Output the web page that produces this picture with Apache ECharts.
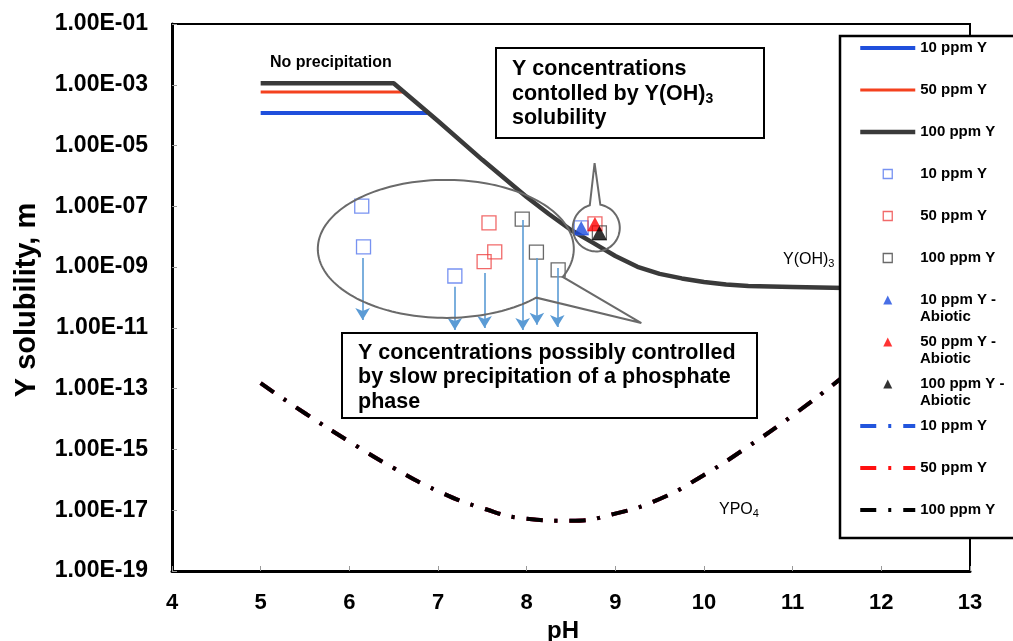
<!DOCTYPE html>
<html><head><meta charset="utf-8">
<script src="https://cdn.jsdelivr.net/npm/echarts@6/dist/echarts.min.js"></script>
<style>html,body{margin:0;padding:0;background:#fff}#c{width:1013px;height:641px}</style>
</head><body><div id="c"></div>
<script>
// ---- axis ticks ----
const xTicks = [4, 5, 6, 7, 8, 9, 10, 11, 12, 13];
const yTickExponents = [-19, -17, -15, -13, -11, -9, -7, -5, -3, -1];

// ---- Y(OH)3 solubility model lines (Y solubility, m) ----
const line10pH = [5.0, 6.88];
const line10Val = [1.17e-4, 1.17e-4];
const line50pH = [5.0, 6.61];
const line50Val = [5.75e-4, 5.75e-4];
const line100pH = [5.0, 6.5, 7.0, 7.5, 8.0, 8.25, 8.5, 8.75, 9.0, 9.25, 9.5, 9.75, 10.0, 10.25, 10.5, 11.0, 11.6, 12.0];
const line100Val = [1.12e-3, 1.12e-3, 6.46e-5, 3.39e-6, 2.04e-7, 5.6e-8, 1.67e-8, 6.25e-9, 2.33e-9, 1.02e-9, 5.97e-10, 4.25e-10, 3.26e-10, 2.7e-10, 2.41e-10, 2.23e-10, 2.07e-10, 2.04e-10];

// ---- measured data (open squares) ----
const sq10pH = [6.14, 6.16, 7.19, 8.615];
const sq10Val = [1.02e-7, 4.6e-9, 5.1e-10, 1.95e-8];
const sq50pH = [7.575, 7.64, 7.52, 8.77];
const sq50Val = [2.84e-8, 3.16e-9, 1.51e-9, 2.63e-8];
const sq100pH = [7.95, 8.11, 8.355, 8.82];
const sq100Val = [3.8e-8, 3.09e-9, 8.1e-10, 1.33e-8];

// ---- abiotic data (filled triangles) ----
const tri10pH = [8.615];
const tri10Val = [1.95e-8];
const tri50pH = [8.77];
const tri50Val = [2.63e-8];
const tri100pH = [8.82];
const tri100Val = [1.33e-8];

// ---- YPO4 solubility (dash-dot) ----
const ypoPH = [5.0, 5.5, 6.0, 6.5, 7.0, 7.5, 8.0, 8.5, 9.0, 9.5, 10.0, 10.5, 11.0, 11.5, 12.0];
const ypoVal = [1.51e-13, 1.55e-14, 1.82e-15, 2.45e-16, 4.27e-17, 1.17e-17, 5.25e-18, 4.47e-18, 7.76e-18, 2.34e-17, 1.45e-16, 1.26e-15, 1.32e-14, 1.70e-13, 2.51e-12];

// ---- downward arrows (upper limits) ----
const arrowPH = [6.15, 7.19, 7.525, 7.955, 8.115, 8.345];
const arrowFrom = [2.0e-9, 2.24e-10, 6.46e-10, 3.55e-8, 2.0e-9, 9.33e-10];
const arrowTo = [1.82e-11, 8.5e-12, 1.0e-11, 8.5e-12, 1.26e-11, 1.07e-11];

// ---- legend labels ----
const legendNames = [
  '10 ppm Y|line', '50 ppm Y|line', '100 ppm Y|line',
  '10 ppm Y|sq', '50 ppm Y|sq', '100 ppm Y|sq',
  '10 ppm Y -|tri', '50 ppm Y -|tri', '100 ppm Y -|tri',
  '10 ppm Y|ypo', '50 ppm Y|ypo', '100 ppm Y|ypo'
];

const FONT = 'Arial';
const lg = v => Math.log10(v);
const pts = (xs, ys) => xs.map((x, i) => [x, lg(ys[i])]);

const chart = echarts.init(document.getElementById('c'), null, {renderer: 'canvas'});

const DASHDOT = [16, 12, 3, 12];
function lineSeries(name, xs, ys, color, width, type, z, smooth) {
  return {
    name, type: 'line', data: pts(xs, ys), symbol: 'none', showSymbol: false,
    smooth: smooth || false, silent: true, z,
    lineStyle: {color, width, type: type || 'solid', cap: 'butt', join: 'round'},
    itemStyle: {color: 'rgba(0,0,0,0)'}
  };
}
function scatterSeries(name, xs, ys, symbol, size, style, z) {
  return {
    name, type: 'scatter', data: pts(xs, ys), symbol, symbolSize: size, silent: true, z,
    itemStyle: style
  };
}

const series = [
  lineSeries(legendNames[9], ypoPH, ypoVal, '#2255dd', 4, DASHDOT, 2, true),
  lineSeries(legendNames[10], ypoPH, ypoVal, '#ff1010', 4, DASHDOT, 2, true),
  lineSeries(legendNames[11], ypoPH, ypoVal, '#000000', 4, DASHDOT, 2, true),
  lineSeries(legendNames[0], line10pH, line10Val, '#1f4fdc', 4, 'solid', 3),
  lineSeries(legendNames[1], line50pH, line50Val, '#f4411e', 3, 'solid', 3),
  lineSeries(legendNames[2], line100pH, line100Val, '#3a3a3a', 4.5, 'solid', 3),
  Object.assign(scatterSeries(legendNames[3], sq10pH, sq10Val, 'rect', 14,
    {color: 'rgba(255,255,255,0)', borderColor: '#5577ee', borderWidth: 1.3}, 4), {
    markLine: {
      silent: true, animation: false,
      symbol: ['none', 'arrow'], symbolSize: [11, 12],
      label: {show: false},
      lineStyle: {color: '#5b9bd5', width: 1.6, type: 'solid'},
      emphasis: {disabled: true},
      data: arrowPH.map((x, i) => [{coord: [x, lg(arrowFrom[i])]}, {coord: [x, lg(arrowTo[i])]}])
    }
  }),
  scatterSeries(legendNames[4], sq50pH, sq50Val, 'rect', 14,
    {color: 'rgba(255,255,255,0)', borderColor: '#ee4444', borderWidth: 1.3}, 4),
  scatterSeries(legendNames[5], sq100pH, sq100Val, 'rect', 14,
    {color: 'rgba(255,255,255,0)', borderColor: '#444444', borderWidth: 1.3}, 4),
  scatterSeries(legendNames[6], tri10pH, tri10Val, 'triangle', [15, 14], {color: '#1a4be0'}, 4),
  scatterSeries(legendNames[7], tri50pH, tri50Val, 'triangle', [15, 14], {color: '#ff0000'}, 4),
  scatterSeries(legendNames[8], tri100pH, tri100Val, 'triangle', [15, 14], {color: '#000000'}, 4)
];

const fmtExp = v => {
  const e = Math.round(v);
  return '1.00E' + (e < 0 ? '-' : '+') + String(Math.abs(e)).padStart(2, '0');
};

const SQ_ICON = 'path://M0,0L10,0L10,10L0,10Z';
const TRI_ICON = 'path://M5,0L10,10L0,10Z';
const legendData = legendNames.map((n, i) => {
  if (i >= 3 && i <= 5) return {name: n, icon: SQ_ICON};
  if (i >= 6 && i <= 8) return {name: n, icon: TRI_ICON};
  return {name: n};
});

chart.setOption({
  animation: false,
  backgroundColor: '#fff',
  textStyle: {fontFamily: FONT},
  grid: {left: 172, right: 43, top: 24, bottom: 70, show: true, borderColor: '#000', borderWidth: 2,
    containLabel: false, outerBoundsMode: 'none'},
  xAxis: {
    type: 'value', min: xTicks[0], max: xTicks[xTicks.length - 1], interval: 1,
    name: 'pH', nameLocation: 'middle', nameGap: 37,
    nameTextStyle: {fontFamily: FONT, fontWeight: 'bold', fontSize: 24, color: '#000', padding: [0, 16, 0, 0]},
    axisLine: {show: true, lineStyle: {color: '#000', width: 3}},
    axisTick: {show: true, inside: true, length: 5, lineStyle: {color: '#999', width: 1}},
    axisLabel: {fontFamily: FONT, fontWeight: 'bold', fontSize: 22, color: '#000', margin: 21,
      showMinLabel: true, showMaxLabel: true},
    splitLine: {show: false}
  },
  yAxis: {
    type: 'value', min: yTickExponents[0], max: yTickExponents[yTickExponents.length - 1], interval: 2,
    name: 'Y solubility, m', nameLocation: 'middle', nameGap: 131,
    nameTextStyle: {fontFamily: FONT, fontWeight: 'bold', fontSize: 29, color: '#000', padding: [0, 5, 0, 0]},
    axisLine: {show: true, lineStyle: {color: '#000', width: 3}},
    axisTick: {show: true, inside: true, length: 5, lineStyle: {color: '#999', width: 1}},
    axisLabel: {fontFamily: FONT, fontWeight: 'bold', fontSize: 23, color: '#000', margin: 24,
      padding: [4, 0, 0, 0],
      formatter: fmtExp, showMinLabel: true, showMaxLabel: true},
    splitLine: {show: false}
  },
  legend: {
    orient: 'vertical', left: 840, top: 36, z: 20,
    padding: [4, 40, 20, 18],
    backgroundColor: '#fff', borderColor: '#000', borderWidth: 2.5,
    itemWidth: 55, itemHeight: 9, itemGap: 26,
    selectedMode: false,
    lineStyle: {width: 'inherit'},
    itemStyle: {borderWidth: 'inherit'},
    textStyle: {fontFamily: FONT, fontWeight: 'bold', fontSize: 15, color: '#000', lineHeight: 16},
    formatter: name => name.split('|')[0],
    data: legendData
  },
  series
});

// ---- annotations ----
const toPx = (ph, logv) => chart.convertToPixel({gridIndex: 0}, [ph, logv]);
const deg = Math.PI / 180;
function arcPts(c, rx, ry, a0, a1, n) {
  const out = [];
  for (let i = 0; i <= n; i++) {
    const a = (a0 + (a1 - a0) * i / n) * deg;
    out.push([c[0] + rx * Math.cos(a), c[1] + ry * Math.sin(a)]);
  }
  return out;
}

// big callout ellipse around biotic data
const bc = toPx(7.088, -8.40), brx = 128, bry = 69;
const bTip = toPx(9.294, -10.84);
const bigPts = [bTip].concat(arcPts(bc, brx, bry, 24, 45 - 360, 160)).concat([bTip]);

// small circular callout around abiotic data
const sc = toPx(8.785, -7.71), sr = 23.5;
const sTip = toPx(8.766, -5.58);
const smallPts = [sTip].concat(arcPts(sc, sr, sr, -80, 254, 90)).concat([sTip]);

const boxFont = {fontFamily: FONT, fontWeight: 'bold', fontSize: 21.5, fill: '#000'};
const legendLineY = [300, 342, 384];

chart.setOption({
  graphic: [
    {type: 'polyline', z: 100, shape: {points: bigPts}, style: {fill: 'none', stroke: '#6a6a6a', lineWidth: 2}},
    {type: 'polyline', z: 100, shape: {points: smallPts}, style: {fill: 'none', stroke: '#6a6a6a', lineWidth: 2}},
    {type: 'rect', z: 100, shape: {x: 496, y: 48, width: 268, height: 90},
      style: {fill: '#fff', stroke: '#000', lineWidth: 2}},
    {type: 'text', z: 101, x: 512, y: 57, style: {
      text: '{a|Y concentrations}\n{a|contolled by Y(OH)}{s|3}\n{a|solubility}',
      rich: {
        a: {fontFamily: FONT, fontWeight: 'bold', fontSize: 21.5, lineHeight: 24.5, fill: '#000'},
        s: {fontFamily: FONT, fontWeight: 'bold', fontSize: 14, lineHeight: 13, verticalAlign: 'bottom', fill: '#000'}
      }
    }},
    {type: 'rect', z: 100, shape: {x: 342, y: 333, width: 415, height: 85},
      style: {fill: '#fff', stroke: '#000', lineWidth: 2}},
    {type: 'text', z: 101, x: 358, y: 341.2, style: Object.assign({
      text: 'Y concentrations possibly controlled\nby slow precipitation of a phosphate\nphase',
      lineHeight: 24.2}, boxFont)},
    {type: 'text', z: 101, x: 270, y: 62.7, style: {
      text: 'No precipitation', fontFamily: FONT, fontWeight: 'bold', fontSize: 16, fill: '#000',
      verticalAlign: 'middle'}},
    {type: 'text', z: 101, x: 783, y: 251, style: {
      text: '{a|Y(OH)}{s|3}',
      rich: {
        a: {fontFamily: FONT, fontSize: 16, lineHeight: 18, fill: '#000'},
        s: {fontFamily: FONT, fontSize: 11, lineHeight: 10, verticalAlign: 'bottom', fill: '#000'}
      }
    }},
    {type: 'text', z: 101, x: 719, y: 501, style: {
      text: '{a|YPO}{s|4}',
      rich: {
        a: {fontFamily: FONT, fontSize: 16, lineHeight: 18, fill: '#000'},
        s: {fontFamily: FONT, fontSize: 11, lineHeight: 10, verticalAlign: 'bottom', fill: '#000'}
      }
    }}
  ].concat(legendLineY.map(y => ({
    type: 'text', z: 120, x: 920, y: y + 16.7, style: {
      text: 'Abiotic', fontFamily: FONT, fontWeight: 'bold', fontSize: 15, fill: '#000',
      verticalAlign: 'middle'}
  })))
});
</script>
</body></html>
